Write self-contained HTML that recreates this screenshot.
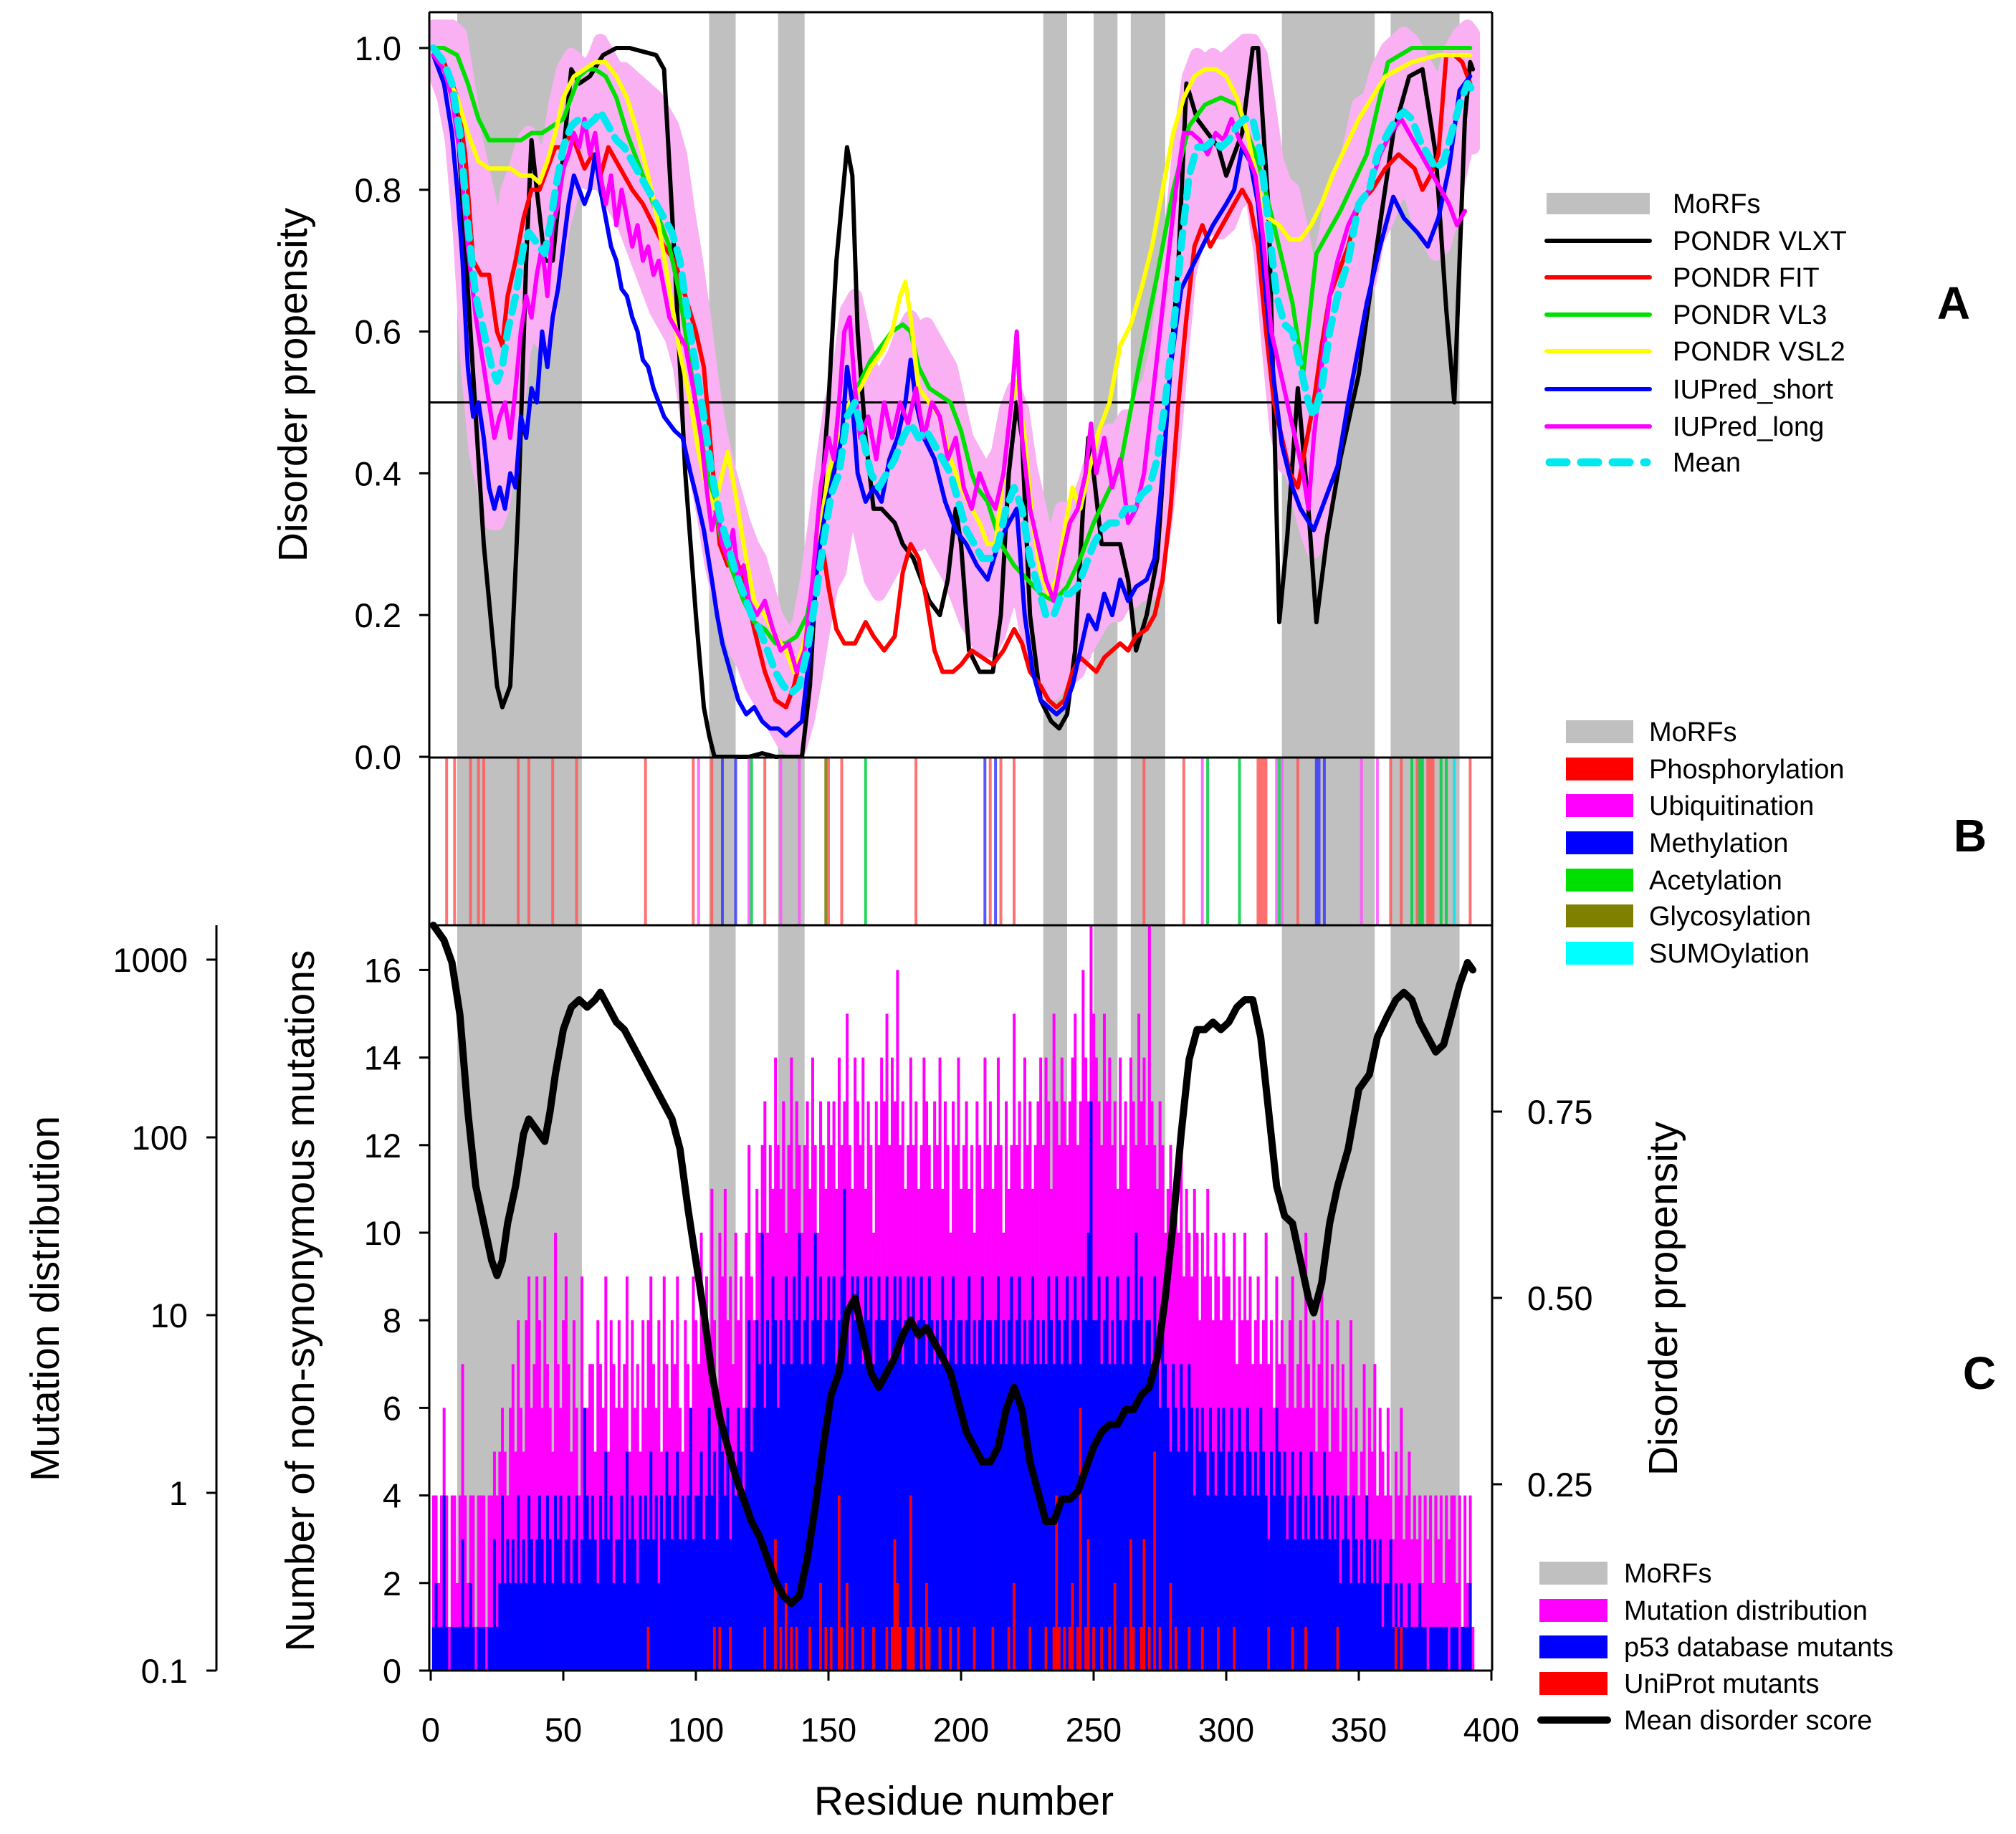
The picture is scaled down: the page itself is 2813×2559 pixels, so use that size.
<!DOCTYPE html>
<html><head><meta charset="utf-8"><style>
html,body{margin:0;padding:0;background:#fff}
svg{display:block;font-family:"Liberation Sans",Arial,sans-serif}
</style></head><body>
<svg id="chart" width="2813" height="2559" viewBox="0 0 2813 2559" xmlns="http://www.w3.org/2000/svg">
<g id="gA"></g>
<g id="gB"></g>
<g id="gC"></g>
<g id="gAx"></g>
<g id="gLeg"></g>
</svg>
<script>
// ===== DATA =====
const morfStart = [10,105,131,231,250,264,321,362];
const morfEnd   = [57,115,141,240,259,277,356,388];

const vlxt = [[1,1.0],[5,0.98],[10,0.9],[15,0.6],[20,0.3],[25,0.1],[27,0.07],[30,0.1],[33,0.35],[36,0.7],[38,0.87],[40,0.8],[43,0.7],[46,0.7],[50,0.85],[53,0.97],[56,0.95],[60,0.96],[65,0.99],[70,1.0],[75,1.0],[80,0.995],[85,0.99],[88,0.97],[92,0.7],[96,0.4],[100,0.2],[103,0.07],[105,0.03],[107,0.0],[115,0.0],[120,0.0],[125,0.005],[130,0.0],[140,0.0],[143,0.1],[146,0.3],[150,0.5],[153,0.7],[155,0.78],[157,0.86],[159,0.82],[161,0.6],[164,0.45],[167,0.35],[170,0.35],[175,0.33],[178,0.3],[182,0.28],[185,0.25],[188,0.22],[192,0.2],[195,0.25],[198,0.35],[200,0.3],[203,0.15],[207,0.12],[212,0.12],[215,0.2],[218,0.4],[221,0.5],[223,0.45],[226,0.2],[230,0.08],[234,0.05],[237,0.04],[240,0.06],[243,0.15],[246,0.35],[248,0.45],[250,0.4],[253,0.3],[256,0.3],[260,0.3],[263,0.25],[266,0.15],[270,0.2],[274,0.28],[278,0.5],[282,0.7],[285,0.95],[289,0.9],[293,0.88],[297,0.86],[300,0.82],[303,0.85],[306,0.88],[310,1.0],[312,1.0],[316,0.77],[318,0.49],[320,0.19],[323,0.31],[327,0.52],[331,0.35],[334,0.19],[338,0.31],[343,0.42],[350,0.54],[356,0.7],[363,0.88],[369,0.96],[374,0.97],[379,0.85],[383,0.63],[386,0.5],[388,0.7],[390,0.9],[392,0.98],[393,0.97]];

const fit = [[1,1.0],[5,0.98],[10,0.93],[13,0.85],[16,0.7],[19,0.68],[22,0.68],[25,0.6],[27,0.58],[29,0.65],[32,0.7],[35,0.76],[38,0.8],[41,0.8],[44,0.83],[47,0.86],[50,0.86],[53,0.88],[56,0.85],[58,0.83],[61,0.85],[64,0.82],[67,0.86],[70,0.84],[73,0.82],[76,0.8],[80,0.78],[84,0.75],[88,0.72],[92,0.7],[96,0.65],[100,0.6],[103,0.55],[106,0.42],[109,0.3],[112,0.27],[115,0.28],[118,0.25],[122,0.18],[126,0.12],[130,0.08],[134,0.07],[137,0.1],[140,0.15],[143,0.2],[146,0.28],[148,0.29],[150,0.24],[153,0.18],[156,0.16],[160,0.16],[164,0.19],[167,0.17],[171,0.15],[175,0.17],[178,0.26],[181,0.3],[184,0.28],[187,0.22],[190,0.15],[193,0.12],[197,0.12],[200,0.13],[204,0.15],[208,0.14],[212,0.13],[216,0.15],[220,0.18],[223,0.16],[226,0.12],[230,0.1],[233,0.08],[236,0.07],[239,0.08],[242,0.12],[245,0.14],[248,0.13],[251,0.12],[254,0.14],[257,0.15],[260,0.16],[263,0.15],[266,0.17],[270,0.18],[273,0.2],[276,0.25],[279,0.35],[282,0.5],[285,0.62],[288,0.72],[291,0.75],[294,0.72],[297,0.74],[300,0.76],[303,0.78],[306,0.8],[309,0.78],[312,0.72],[315,0.6],[318,0.5],[321,0.45],[324,0.4],[327,0.38],[330,0.44],[333,0.5],[336,0.58],[339,0.65],[342,0.68],[346,0.72],[350,0.78],[355,0.8],[360,0.83],[365,0.85],[368,0.84],[371,0.83],[374,0.8],[377,0.82],[380,0.85],[383,0.99],[386,0.99],[389,0.98],[392,0.95]];

const vl3 = [[1,1.0],[5,1.0],[10,0.99],[14,0.95],[18,0.9],[22,0.87],[26,0.87],[30,0.87],[34,0.87],[38,0.88],[42,0.88],[46,0.89],[50,0.9],[53,0.93],[56,0.96],[59,0.97],[62,0.97],[66,0.96],[70,0.93],[74,0.88],[78,0.84],[82,0.8],[86,0.76],[90,0.72],[94,0.65],[98,0.55],[102,0.45],[106,0.37],[110,0.3],[114,0.26],[118,0.22],[122,0.19],[126,0.18],[130,0.16],[134,0.16],[138,0.17],[142,0.2],[146,0.28],[150,0.38],[154,0.45],[158,0.5],[162,0.53],[166,0.56],[170,0.58],[174,0.6],[178,0.61],[181,0.6],[184,0.55],[188,0.52],[192,0.51],[196,0.5],[200,0.46],[204,0.4],[206,0.38],[210,0.36],[215,0.3],[220,0.27],[225,0.25],[230,0.23],[235,0.22],[240,0.24],[245,0.28],[250,0.33],[255,0.37],[260,0.41],[267,0.55],[274,0.68],[280,0.8],[286,0.89],[292,0.92],[298,0.93],[304,0.92],[312,0.84],[318,0.75],[325,0.64],[329,0.54],[334,0.71],[343,0.77],[353,0.85],[361,0.98],[370,1.0],[380,1.0],[392,1.0]];

const vsl2 = [[1,1.0],[5,0.97],[10,0.93],[14,0.88],[18,0.84],[22,0.83],[26,0.83],[30,0.83],[34,0.82],[38,0.82],[41,0.81],[44,0.84],[47,0.88],[50,0.93],[54,0.96],[58,0.97],[62,0.98],[66,0.98],[70,0.96],[74,0.93],[78,0.88],[82,0.82],[86,0.75],[90,0.66],[94,0.57],[98,0.5],[101,0.43],[104,0.38],[107,0.35],[110,0.4],[112,0.43],[115,0.37],[118,0.3],[122,0.22],[126,0.2],[130,0.17],[134,0.15],[137,0.12],[140,0.15],[143,0.2],[146,0.3],[150,0.4],[154,0.45],[158,0.5],[162,0.52],[166,0.55],[170,0.57],[174,0.6],[177,0.65],[179,0.67],[181,0.62],[184,0.52],[188,0.5],[192,0.48],[196,0.42],[200,0.38],[204,0.35],[207,0.33],[210,0.3],[213,0.3],[216,0.4],[219,0.5],[221,0.53],[224,0.45],[227,0.33],[230,0.26],[233,0.23],[236,0.25],[239,0.32],[242,0.38],[245,0.35],[248,0.4],[252,0.46],[256,0.5],[260,0.58],[264,0.61],[268,0.66],[272,0.72],[276,0.8],[280,0.88],[284,0.93],[288,0.96],[292,0.97],[296,0.97],[300,0.96],[304,0.93],[308,0.88],[312,0.8],[316,0.76],[320,0.75],[324,0.73],[328,0.73],[332,0.75],[336,0.78],[340,0.82],[345,0.86],[350,0.9],[355,0.93],[360,0.96],[365,0.97],[370,0.98],[380,0.99],[392,0.99]];

const iuShort = [[1,0.99],[5,0.95],[8,0.88],[10,0.8],[12,0.7],[14,0.55],[16,0.48],[18,0.5],[20,0.45],[22,0.38],[24,0.35],[26,0.38],[28,0.35],[30,0.4],[32,0.38],[34,0.48],[36,0.45],[38,0.52],[40,0.5],[42,0.6],[44,0.55],[46,0.62],[48,0.66],[50,0.72],[52,0.78],[54,0.82],[56,0.8],[58,0.78],[60,0.8],[62,0.85],[64,0.8],[66,0.76],[68,0.72],[70,0.7],[72,0.66],[74,0.65],[76,0.62],[78,0.6],[80,0.56],[82,0.55],[84,0.52],[86,0.5],[88,0.48],[90,0.47],[92,0.46],[95,0.45],[98,0.4],[100,0.37],[103,0.32],[106,0.25],[108,0.2],[110,0.16],[113,0.12],[116,0.08],[119,0.06],[122,0.07],[125,0.05],[128,0.04],[131,0.04],[134,0.03],[137,0.04],[140,0.05],[143,0.15],[146,0.28],[149,0.35],[152,0.4],[155,0.45],[157,0.55],[159,0.5],[161,0.4],[164,0.36],[167,0.38],[170,0.36],[173,0.42],[176,0.45],[179,0.5],[181,0.56],[183,0.5],[186,0.45],[190,0.42],[194,0.36],[198,0.32],[202,0.3],[206,0.27],[210,0.25],[214,0.3],[218,0.33],[221,0.35],[224,0.2],[227,0.12],[230,0.08],[233,0.07],[236,0.06],[239,0.07],[242,0.1],[245,0.15],[248,0.2],[251,0.18],[254,0.23],[257,0.2],[260,0.25],[263,0.22],[266,0.24],[270,0.25],[273,0.28],[276,0.4],[279,0.55],[283,0.66],[287,0.69],[291,0.72],[295,0.75],[300,0.78],[303,0.8],[306,0.86],[309,0.84],[312,0.78],[315,0.65],[318,0.53],[321,0.44],[325,0.38],[328,0.35],[333,0.32],[337,0.36],[342,0.41],[346,0.5],[350,0.58],[353,0.64],[358,0.72],[363,0.79],[367,0.76],[372,0.74],[376,0.72],[380,0.76],[384,0.83],[388,0.94],[392,0.96]];

const iuLong = [[1,0.99],[5,0.97],[8,0.93],[11,0.85],[14,0.72],[17,0.62],[20,0.55],[22,0.5],[24,0.45],[26,0.48],[28,0.5],[30,0.45],[32,0.52],[34,0.6],[36,0.65],[38,0.62],[40,0.68],[42,0.72],[44,0.65],[46,0.75],[48,0.78],[50,0.83],[52,0.85],[54,0.88],[56,0.86],[58,0.9],[60,0.85],[62,0.88],[64,0.82],[66,0.78],[68,0.82],[70,0.75],[72,0.8],[74,0.76],[76,0.72],[78,0.75],[80,0.7],[82,0.72],[84,0.68],[86,0.7],[88,0.66],[90,0.62],[93,0.6],[96,0.58],[99,0.52],[102,0.45],[104,0.38],[106,0.32],[108,0.35],[110,0.3],[112,0.28],[114,0.32],[116,0.25],[118,0.27],[120,0.22],[123,0.2],[126,0.22],[129,0.18],[132,0.15],[135,0.16],[138,0.12],[141,0.15],[144,0.25],[147,0.38],[150,0.45],[152,0.42],[154,0.5],[156,0.6],[158,0.62],[160,0.52],[162,0.45],[165,0.48],[168,0.42],[171,0.5],[174,0.45],[177,0.5],[180,0.47],[183,0.52],[186,0.45],[189,0.5],[192,0.48],[195,0.42],[198,0.45],[201,0.38],[204,0.35],[207,0.4],[210,0.37],[213,0.35],[216,0.4],[219,0.5],[221,0.6],[223,0.45],[226,0.35],[229,0.3],[232,0.25],[235,0.22],[238,0.28],[241,0.33],[244,0.35],[247,0.4],[249,0.47],[251,0.4],[254,0.45],[257,0.38],[260,0.42],[263,0.33],[266,0.35],[269,0.4],[272,0.5],[275,0.6],[278,0.7],[281,0.8],[284,0.88],[287,0.88],[290,0.87],[293,0.85],[296,0.88],[299,0.87],[302,0.9],[305,0.87],[308,0.85],[311,0.82],[314,0.73],[317,0.6],[320,0.55],[323,0.5],[326,0.45],[329,0.4],[331,0.35],[333,0.45],[336,0.55],[339,0.65],[342,0.7],[346,0.75],[350,0.78],[354,0.8],[358,0.85],[362,0.88],[366,0.9],[369,0.88],[372,0.86],[375,0.84],[378,0.82],[381,0.8],[384,0.78],[387,0.75],[390,0.77]];

// [residue, mean, spread]
const meanSeries = [[1,1.0,0.03],[5,0.98,0.05],[8,0.95,0.08],[11,0.88,0.14],[14,0.75,0.2],[17,0.65,0.22],[20,0.6,0.22],[23,0.55,0.22],[25,0.53,0.2],[27,0.55,0.2],[29,0.6,0.2],[32,0.65,0.18],[35,0.72,0.15],[37,0.74,0.14],[39,0.73,0.13],[41,0.72,0.13],[43,0.71,0.13],[45,0.75,0.12],[47,0.8,0.12],[50,0.86,0.11],[53,0.89,0.1],[56,0.9,0.08],[59,0.89,0.08],[62,0.9,0.09],[64,0.91,0.1],[67,0.89,0.1],[70,0.87,0.1],[73,0.86,0.11],[76,0.84,0.12],[79,0.82,0.13],[82,0.8,0.14],[85,0.78,0.15],[88,0.76,0.15],[91,0.74,0.15],[94,0.7,0.15],[97,0.62,0.15],[100,0.55,0.15],[103,0.48,0.14],[106,0.4,0.13],[109,0.34,0.12],[112,0.3,0.11],[115,0.26,0.11],[118,0.23,0.1],[121,0.2,0.1],[124,0.18,0.1],[127,0.15,0.09],[130,0.12,0.08],[133,0.1,0.08],[136,0.09,0.08],[139,0.1,0.09],[142,0.15,0.1],[145,0.22,0.11],[148,0.3,0.12],[151,0.37,0.13],[154,0.4,0.14],[157,0.48,0.15],[160,0.5,0.15],[163,0.45,0.15],[166,0.4,0.15],[169,0.38,0.15],[172,0.4,0.15],[175,0.42,0.15],[178,0.45,0.15],[181,0.47,0.15],[184,0.45,0.15],[187,0.46,0.15],[190,0.44,0.15],[193,0.42,0.15],[196,0.4,0.15],[199,0.36,0.14],[202,0.32,0.13],[205,0.3,0.13],[208,0.28,0.13],[211,0.28,0.13],[214,0.3,0.13],[217,0.35,0.14],[220,0.38,0.14],[223,0.35,0.14],[226,0.28,0.13],[229,0.24,0.12],[232,0.2,0.11],[235,0.2,0.11],[238,0.23,0.12],[241,0.23,0.12],[244,0.24,0.12],[247,0.27,0.12],[250,0.3,0.13],[253,0.32,0.13],[256,0.33,0.13],[259,0.33,0.13],[262,0.35,0.13],[265,0.35,0.13],[268,0.37,0.14],[271,0.38,0.15],[274,0.42,0.16],[277,0.5,0.17],[280,0.6,0.17],[283,0.72,0.16],[286,0.82,0.14],[289,0.86,0.13],[292,0.86,0.12],[295,0.87,0.12],[298,0.86,0.12],[301,0.87,0.12],[304,0.89,0.11],[307,0.9,0.11],[310,0.9,0.11],[313,0.85,0.14],[316,0.75,0.17],[319,0.65,0.19],[322,0.61,0.2],[325,0.6,0.2],[328,0.55,0.2],[331,0.5,0.19],[333,0.48,0.19],[336,0.52,0.19],[339,0.6,0.17],[342,0.65,0.16],[346,0.7,0.15],[350,0.78,0.14],[354,0.8,0.13],[357,0.85,0.12],[361,0.88,0.12],[364,0.9,0.11],[367,0.91,0.11],[370,0.9,0.11],[373,0.87,0.12],[376,0.85,0.12],[379,0.83,0.12],[382,0.84,0.12],[385,0.88,0.12],[388,0.92,0.1],[391,0.95,0.08],[393,0.94,0.08]];

const ptmPhos = [6,9,15,18,20,33,37,46,55,81,99,106,126,150,155,183,211,215,220,269,284,312,313,314,315,327,362,366,372,376,377,378,392];
const ptmUbiq = [101,120,132,139,291,319,321,351,357];
const ptmMeth = [110,115,209,213,334,335,337];
const ptmAcet = [121,164,293,305,320,370,373,374,381,383];
const ptmGlyc = [149];
const ptmSumo = [386];

const mutDist = [4,4,2,4,6,4,1,4,4,2, 4,7,4,2,4,4,1,4,4,4, 1,4,4,5,4,5,6,5,4,6, 7,5,8,6,5,8,9,6,7,9, 8,6,9,7,6,5,10,7,6,8, 9,7,5,8,6,4,9,5,6,7, 7,5,8,7,6,9,5,8,7,6, 8,6,7,9,5,8,6,7,5,8, 6,8,9,7,6,8,5,9,7,6, 8,7,9,6,5,8,7,6,9,8,
7,10,8,9,7,11,8,6,10,9, 11,8,9,7,10,8,9,6,10,12, 9,8,11,10,12,13,10,12,11,14, 12,11,13,10,12,14,11,13,12,10, 12,13,11,14,12,10,13,12,11,13, 12,13,11,14,12,13,15,12,11,14, 13,12,14,11,13,12,10,13,12,14, 13,15,12,14,13,16,12,13,11,12, 14,12,13,11,12,14,13,12,11,13, 12,14,11,13,12,10,13,12,14,11,
12,13,11,12,10,13,12,11,14,12, 13,11,12,14,12,10,13,11,12,15, 12,13,11,14,12,13,11,12,13,14, 12,14,13,11,15,13,12,14,13,12, 13,14,15,12,13,16,14,13,17,15, 14,13,12,15,13,14,12,13,11,14, 12,13,11,14,13,12,15,13,14,12, 17,13,12,11,13,12,10,11,12,10, 11,10,12,9,11,10,9,11,10,8, 10,9,11,9,8,10,9,8,10,9,
9,8,10,7,9,8,10,8,9,7, 8,9,7,8,10,7,8,6,9,7, 8,7,6,8,9,6,7,8,6,10, 7,6,8,5,7,9,6,8,5,7, 6,8,5,7,6,4,8,5,6,4, 5,7,4,6,5,7,4,6,5,4, 6,4,3,5,4,6,3,4,5,3, 4,3,4,2,4,3,4,2,4,3, 4,2,4,3,4,4,2,4,1,4, 2,4,1];

const p53Mut = [1,2,1,1,4,1,0,1,1,1, 1,3,1,1,2,1,0,1,1,1, 0,1,1,3,1,2,4,2,3,2, 3,2,4,2,3,2,4,3,2,3, 4,3,2,4,3,2,4,3,4,2, 3,4,2,3,4,2,3,6,4,3, 4,3,2,4,3,5,3,4,2,3, 3,4,2,5,3,4,3,2,4,3, 4,3,5,3,4,2,4,3,5,4, 3,4,5,3,4,3,4,6,3,4,
4,5,3,4,6,4,5,3,6,5, 4,6,3,5,4,6,5,4,6,8, 5,6,8,7,10,6,8,7,9,8, 6,8,7,9,8,7,9,8,10,7, 8,9,7,8,10,8,9,7,8,9, 8,9,7,8,9,11,8,7,9,8, 9,8,7,9,8,9,7,8,9,8, 8,9,7,8,9,8,9,7,8,9, 8,9,7,8,9,8,7,9,8,7, 8,7,9,8,7,8,9,7,8,8,
7,8,9,7,8,7,8,9,7,8, 8,7,8,9,7,8,7,8,9,7, 8,9,7,8,7,8,9,7,8,7, 8,7,9,8,7,9,8,7,8,9, 7,8,9,8,7,9,8,10,13,8, 8,9,7,8,9,7,8,7,9,8, 7,8,9,7,8,10,8,9,7,8, 8,7,9,7,6,8,7,6,5,7, 6,5,7,6,5,7,6,4,6,5, 6,5,4,6,5,4,6,5,6,4,
5,6,4,5,6,5,4,6,5,4, 5,4,6,5,4,3,5,4,6,5, 4,5,3,4,5,3,4,5,3,4, 3,5,4,3,4,3,5,4,3,4, 3,4,2,3,4,3,2,4,3,2, 3,2,4,3,2,3,2,3,1,2, 2,3,1,2,1,2,1,1,2,1, 1,1,2,1,1,0,1,1,1,1, 1,1,1,0,1,1,1,0,1,1, 1,2,0];

const uniRes = [82,107,109,113,126,130,132,134,136,138,143,147,149,151,154,155,157,159,163,167,172,174,175,176,177,180,181,182,185,187,188,192,196,199,205,212,218,220,226,232,235,236,237,239,241,242,244,245,247,248,250,253,256,258,262,264,265,268,269,271,273,275,279,281,286,291,297,303,316,325,330,342,364,366];
const uniVal = [1,1,1,1,1,3,1,2,1,1,1,2,1,1,4,1,2,1,1,1,1,1,3,2,1,1,4,1,1,2,1,1,1,1,1,1,1,2,1,1,1,4,1,1,1,2,1,6,1,3,1,1,1,2,1,3,1,1,3,1,5,1,2,1,1,1,1,1,1,1,1,1,1,1];

const xTicks = [0,50,100,150,200,250,300,350,400];
const aTicks = [0,0.2,0.4,0.6,0.8,1.0];
const cLeftTicks = [0,2,4,6,8,10,12,14,16];
const cRightTicks = [0.25,0.5,0.75];
const logTicks = [0.1,1,10,100,1000];
const logLabels = ["0.1","1","10","100","1000"];

// ===== SCALES =====
const X0=601, XPX=3.7, PL=599, PR=2082;
const xS = r => X0 + r*XPX;
const A_TOP=17, A_BOT=1057;
const yA = v => 1056 - v*989;
const B_TOP=1057, B_BOT=1291;
const C_TOP=1291, C_BOT=2331;
const yL = n => 2331 - n*61.1;
const yR = v => 2331 - v*1040;
const yLog = v => 2331 - (Math.log10(v)+1)*248;

const NS="http://www.w3.org/2000/svg";
function mk(tag, parent, attrs){const e=document.createElementNS(NS,tag);for(const k in attrs)e.setAttribute(k,attrs[k]);parent.appendChild(e);return e;}
const gA=document.getElementById('gA'), gB=document.getElementById('gB'), gC=document.getElementById('gC'), gAx=document.getElementById('gAx'), gLeg=document.getElementById('gLeg');

// ===== MoRF bands =====
morfStart.forEach((s,i)=>{
  [[A_TOP,A_BOT,gA],[B_TOP,B_BOT,gB],[C_TOP,C_BOT,gC]].forEach(([t,b,g])=>{
    const r=mk('rect',g,{x:xS(s),y:t,width:xS(morfEnd[i])-xS(s),height:b-t,fill:'#c0c0c0'});
    
    
  });
});

// ===== Panel A =====
const clipA=mk('clipPath',gA,{id:'clipA'});mk('rect',clipA,{x:PL,y:A_TOP,width:PR-PL,height:A_BOT-A_TOP});
const up=meanSeries.map(d=>xS(d[0])+','+yA(Math.min(1.04,d[1]+d[2])));
const lo=meanSeries.slice().reverse().map(d=>xS(d[0])+','+yA(Math.max(0,d[1]-d[2])));
const band=mk('polygon',gA,{points:up.concat(lo).join(' '),fill:'#f9b1f4',stroke:'#f9b1f4','stroke-width':20,'stroke-linejoin':'round','clip-path':'url(#clipA)'});


mk('line',gA,{x1:PL,x2:PR,y1:yA(0.5),y2:yA(0.5),stroke:'#000','stroke-width':3});

function line(g,data,yf,color,w,name,dash){
  const p=mk('polyline',g,{points:data.map(d=>xS(d[0])+','+yf(d[1])).join(' '),fill:'none',stroke:color,'stroke-width':w,'stroke-linejoin':'round','stroke-linecap':'round'});
  if(dash)p.setAttribute('stroke-dasharray',dash);
  
  
}
line(gA,vlxt,yA,'#000',6,'pondr-vlxt-line');
line(gA,fit,yA,'#ff0000',6,'pondr-fit-line');
line(gA,vl3,yA,'#00e000',6,'pondr-vl3-line');
line(gA,vsl2,yA,'#ffff00',6,'pondr-vsl2-line');
line(gA,iuShort,yA,'#0000ff',6,'iupred-short-line');
line(gA,iuLong,yA,'#ff00ff',6,'iupred-long-line');
line(gA,meanSeries,yA,'#00e8f0',10,'mean-line','22 14');

// ===== Panel B =====
[[ptmPhos,'#ff5a5a','phosphorylation-site'],[ptmUbiq,'#ff55ff','ubiquitination-site'],[ptmMeth,'#3a3aff','methylation-site'],[ptmAcet,'#00d040','acetylation-site'],[ptmGlyc,'#7a7a00','glycosylation-site'],[ptmSumo,'#00e8f0','sumoylation-site']].forEach(([arr,col,nm])=>{
  arr.forEach(r=>{
    const l=mk('line',gB,{x1:xS(r),x2:xS(r),y1:B_TOP,y2:B_BOT,stroke:col,'stroke-width':4,opacity:0.85});
    
    
  });
});

// ===== Panel C =====
mutDist.forEach((v,i)=>{const r=i+1;
  const b=mk('rect',gC,{x:xS(r-0.5),y:yL(v),width:XPX+0.3,height:yL(0)-yL(v),fill:'#ff00ff'});
  
  
});
p53Mut.forEach((v,i)=>{const r=i+1;
  const b=mk('rect',gC,{x:xS(r-0.5),y:yL(v),width:XPX+0.3,height:yL(0)-yL(v),fill:'#0000ff'});
  
  
});
uniRes.forEach((r,i)=>{const v=uniVal[i];
  const b=mk('rect',gC,{x:xS(r-0.5),y:yL(v),width:XPX,height:yL(0)-yL(v),fill:'#ff0000'});
  
  
});
line(gC,meanSeries,yR,'#000',10,'mean-disorder-score-line');

// ===== Axes & frames =====
function ln(x1,y1,x2,y2,w){mk('line',gAx,{x1,y1,x2,y2,stroke:'#000','stroke-width':w||3});}
function tx(str,x,y,size,anchor,name,rot,weight){
  const t=mk('text',gAx,{x,y,'font-size':size,'text-anchor':anchor||'middle',fill:'#000'});
  if(rot)t.setAttribute('transform','rotate(-90 '+x+' '+y+')');
  if(weight)t.setAttribute('font-weight',weight);
  t.textContent=str;
  
  
  return t;
}
ln(PL,A_TOP,PR,A_TOP);ln(PL,A_TOP,PL,C_BOT);ln(PR,A_TOP,PR,C_BOT);ln(PL,B_TOP,PR,B_TOP);ln(PL,B_BOT,PR,B_BOT);ln(PL,C_BOT,PR,C_BOT);
aTicks.forEach(v=>{ln(PL-14,yA(v),PL,yA(v));tx(v.toFixed(1),560,yA(v)+17,47,'end','a-y-tick-label');});
tx('Disorder propensity',428,537,57,'middle','a-y-axis-title',true);
cLeftTicks.forEach(v=>{ln(PL-14,yL(v),PL,yL(v));tx(String(v),560,yL(v)+17,47,'end','c-left-tick-label');});
tx('Number of non-synonymous mutations',438,1815,57,'middle','c-left-axis-title',true);
cRightTicks.forEach(v=>{ln(PR,yR(v),PR+14,yR(v));tx(v.toFixed(2),2131,yR(v)+17,47,'start','c-right-tick-label');});
tx('Disorder propensity',2340,1812,57,'middle','c-right-axis-title',true);
ln(302,1291,302,C_BOT);
logTicks.forEach((v,i)=>{ln(288,yLog(v),302,yLog(v));tx(logLabels[i],262,yLog(v)+17,47,'end','log-tick-label');});
tx('Mutation distribution',82,1812,57,'middle','log-axis-title',true);
xTicks.forEach(v=>{ln(xS(v),C_BOT,xS(v),C_BOT+14);tx(String(v),xS(v),2430,47,'middle','x-tick-label');});
tx('Residue number',1345,2532,57,'middle','x-axis-title');
tx('A',2726,445,64,'middle','panel-label-a',false,'bold');
tx('B',2749,1188,64,'middle','panel-label-b',false,'bold');
tx('C',2762,1938,64,'middle','panel-label-c',false,'bold');

// ===== Legends =====
function legSwatch(x,y,w,h,col,name){const r=mk('rect',gLeg,{x,y,width:w,height:h,fill:col});}
function legLine(x1,x2,y,col,w,name,dash){const l=mk('line',gLeg,{x1,x2,y1:y,y2:y,stroke:col,'stroke-width':w,'stroke-linecap':'round'});if(dash)l.setAttribute('stroke-dasharray',dash);}
function legText(str,x,y,name){const t=mk('text',gLeg,{x,y:y+13,'font-size':38,fill:'#000'});t.textContent=str;}
const legAy=[284,336,387,439,490,543,595,645];
legSwatch(2158,legAy[0]-15,144,30,'#c0c0c0','legend-a-morfs-swatch');legText('MoRFs',2334,legAy[0],'legend-a-morfs');
[['#000','PONDR VLXT'],['#ff0000','PONDR FIT'],['#00e000','PONDR VL3'],['#ffff00','PONDR VSL2'],['#0000ff','IUPred_short'],['#ff00ff','IUPred_long']].forEach(([c,s],i)=>{
  legLine(2158,2302,legAy[i+1],c,6,'legend-a-line-swatch');legText(s,2334,legAy[i+1],'legend-a-entry');
});
legLine(2162,2298,legAy[7],'#00e8f0',11,'legend-a-mean-swatch','24 20');legText('Mean',2334,legAy[7],'legend-a-mean');
const legBy=[1021,1073,1124,1176,1228,1278,1330];
[['#c0c0c0','MoRFs'],['#ff0000','Phosphorylation'],['#ff00ff','Ubiquitination'],['#0000ff','Methylation'],['#00e000','Acetylation'],['#808000','Glycosylation'],['#00ffff','SUMOylation']].forEach(([c,s],i)=>{
  legSwatch(2185,legBy[i]-16,94,32,c,'legend-b-swatch');legText(s,2301,legBy[i],'legend-b-entry');
});
const legCy=[2195,2247,2298,2349,2400];
[['#c0c0c0','MoRFs'],['#ff00ff','Mutation distribution'],['#0000ff','p53 database mutants'],['#ff0000','UniProt mutants']].forEach(([c,s],i)=>{
  legSwatch(2148,legCy[i]-16,95,32,c,'legend-c-swatch');legText(s,2266,legCy[i],'legend-c-entry');
});
legLine(2150,2243,legCy[4],'#000',10,'legend-c-mean-swatch');legText('Mean disorder score',2266,legCy[4],'legend-c-mean');
</script>
</body></html>
